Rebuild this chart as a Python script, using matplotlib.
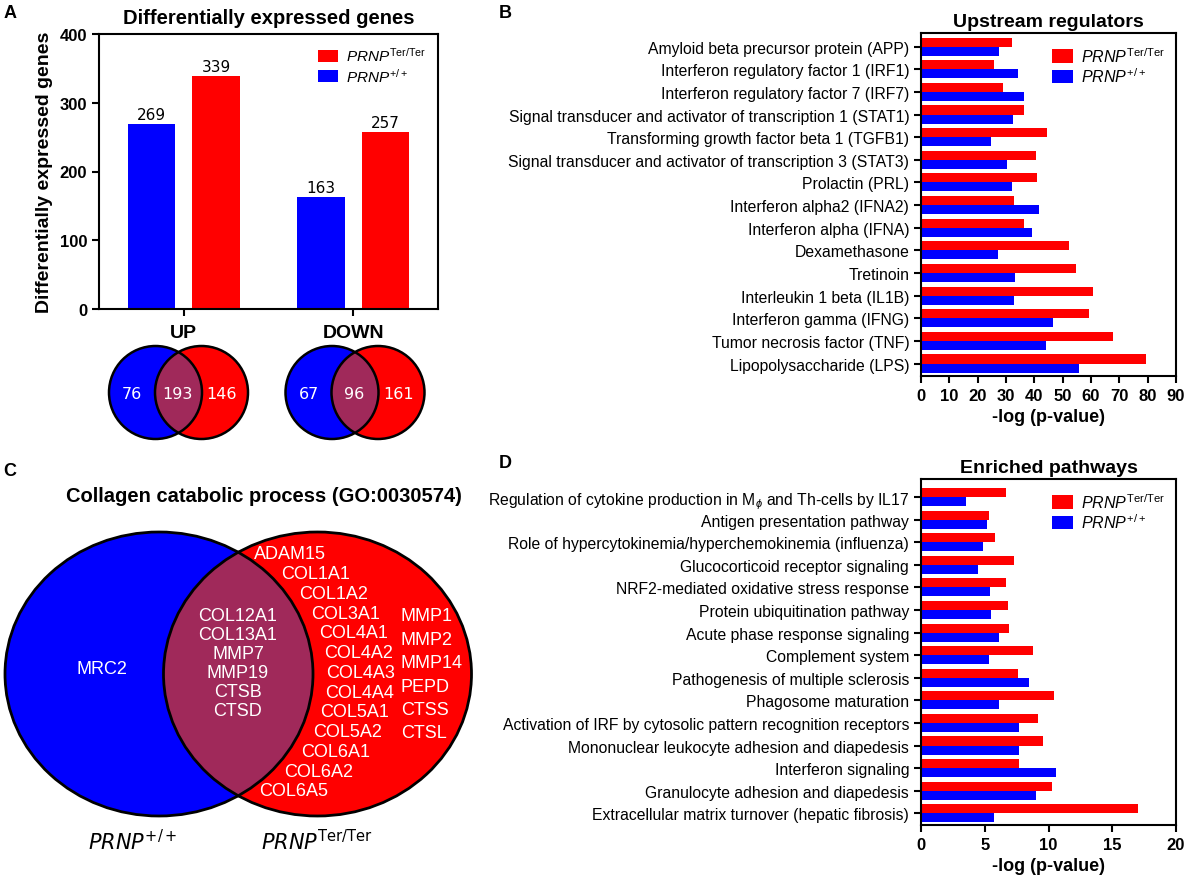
import numpy as np
import matplotlib.pyplot as plt
from matplotlib.patches import Ellipse

plt.rcParams['font.family'] = ['Liberation Sans', 'DejaVu Sans']
plt.rcParams['mathtext.fontset'] = 'custom'
plt.rcParams['mathtext.rm'] = 'Liberation Sans'
plt.rcParams['mathtext.it'] = 'Liberation Sans:italic'
plt.rcParams['mathtext.bf'] = 'Liberation Sans:bold'
plt.rcParams['axes.linewidth'] = 1.5

RED = '#ff0000'
BLUE = '#0000ff'
OVERLAP = '#a0295a'
LAB_TER = r'$\mathit{PRNP}^{\mathrm{Ter/Ter}}$'
LAB_WT = r'$\mathit{PRNP}^{\mathrm{+/+}}$'

# --- Panel A data ---
deg_groups = ['UP', 'DOWN']
deg_wt = [269, 163]
deg_ter = [339, 257]
venn_up = [76, 193, 146]     # wt only, shared, ter only
venn_down = [67, 96, 161]

# --- Panel B data ---
regulators = [
    'Amyloid beta precursor protein (APP)',
    'Interferon regulatory factor 1 (IRF1)',
    'Interferon regulatory factor 7 (IRF7)',
    'Signal transducer and activator of transcription 1 (STAT1)',
    'Transforming growth factor beta 1 (TGFB1)',
    'Signal transducer and activator of transcription 3 (STAT3)',
    'Prolactin (PRL)',
    'Interferon alpha2 (IFNA2)',
    'Interferon alpha (IFNA)',
    'Dexamethasone',
    'Tretinoin',
    'Interleukin 1 beta (IL1B)',
    'Interferon gamma (IFNG)',
    'Tumor necrosis factor (TNF)',
    'Lipopolysaccharide (LPS)',
]
reg_ter = [32.1, 25.9, 28.9, 36.4, 44.3, 40.5, 40.9, 32.7, 36.3, 52.4, 54.8, 60.6, 59.2, 67.6, 79.5]
reg_wt = [27.6, 34.3, 36.4, 32.3, 24.8, 30.5, 32.0, 41.5, 39.2, 27.2, 33.1, 32.7, 46.6, 44.0, 55.7]

# --- Panel C data ---
genes_wt_only = ['MRC2']
genes_shared = ['COL12A1', 'COL13A1', 'MMP7', 'MMP19', 'CTSB', 'CTSD']
genes_ter_col = ['ADAM15', 'COL1A1', 'COL1A2', 'COL3A1', 'COL4A1', 'COL4A2', 'COL4A3',
                 'COL4A4', 'COL5A1', 'COL5A2', 'COL6A1', 'COL6A2', 'COL6A5']
genes_ter_other = ['MMP1', 'MMP2', 'MMP14', 'PEPD', 'CTSS', 'CTSL']

# --- Panel D data ---
pathways = [
    r'Regulation of cytokine production in M$_{\phi}$ and Th-cells by IL17',
    'Antigen presentation pathway',
    'Role of hypercytokinemia/hyperchemokinemia (influenza)',
    'Glucocorticoid receptor signaling',
    'NRF2-mediated oxidative stress response',
    'Protein ubiquitination pathway',
    'Acute phase response signaling',
    'Complement system',
    'Pathogenesis of multiple sclerosis',
    'Phagosome maturation',
    'Activation of IRF by cytosolic pattern recognition receptors',
    'Mononuclear leukocyte adhesion and diapedesis',
    'Interferon signaling',
    'Granulocyte adhesion and diapedesis',
    'Extracellular matrix turnover (hepatic fibrosis)',
]
path_ter = [6.7, 5.3, 5.8, 7.3, 6.7, 6.8, 6.9, 8.8, 7.6, 10.4, 9.2, 9.6, 7.7, 10.3, 17.0]
path_wt = [3.5, 5.2, 4.9, 4.5, 5.4, 5.5, 6.1, 5.3, 8.5, 6.1, 7.7, 7.7, 10.6, 9.0, 5.7]

W, H = 1191, 887
fig = plt.figure(figsize=(W / 100, H / 100), dpi=100)


def px_axes(x0, y0, x1, y1):
    # axes from pixel box (top-left origin)
    return fig.add_axes([x0 / W, (H - y1) / H, (x1 - x0) / W, (y1 - y0) / H])


# overlay axes for venns and free text, pixel coords
ov = fig.add_axes([0, 0, 1, 1])
ov.set_xlim(0, W)
ov.set_ylim(H, 0)
ov.axis('off')


def draw_venn(cxl, cxr, cy, w, h, lw):
    left = Ellipse((cxl, cy), w, h, facecolor=BLUE, edgecolor='none')
    right = Ellipse((cxr, cy), w, h, facecolor=RED, edgecolor='none')
    ov.add_patch(left)
    ov.add_patch(right)
    lens = Ellipse((cxr, cy), w, h, facecolor=OVERLAP, edgecolor='none')
    ov.add_patch(lens)
    lens.set_clip_path(left)
    for cx in (cxl, cxr):
        ov.add_patch(Ellipse((cx, cy), w, h, facecolor='none', edgecolor='black', lw=lw))


# ---------------- Panel A ----------------
axA = px_axes(99, 35, 438, 310)
x = np.arange(len(deg_groups))
bw = 0.28
b1 = axA.bar(x - 0.19, deg_wt, bw, color=BLUE, label=LAB_WT)
b2 = axA.bar(x + 0.19, deg_ter, bw, color=RED, label=LAB_TER)
for bars, vals in [(b1, deg_wt), (b2, deg_ter)]:
    for b, v in zip(bars, vals):
        axA.text(b.get_x() + b.get_width() / 2, v + 3, str(v), ha='center', va='bottom',
                 fontsize=11, family='DejaVu Sans')
axA.set_xlim(-0.5, 1.5)
axA.set_ylim(0, 400)
axA.set_yticks([0, 100, 200, 300, 400])
axA.set_xticks(x)
axA.set_xticklabels(deg_groups, fontsize=14, fontweight='bold')
axA.tick_params(axis='y', labelsize=12, width=1.5, length=5)
axA.tick_params(axis='x', width=1.5, length=5, pad=6)
for lab in axA.get_yticklabels():
    lab.set_fontweight('bold')
axA.set_ylabel('Differentially expressed genes', fontsize=14, fontweight='bold', labelpad=5)
axA.set_title('Differentially expressed genes', fontsize=14.5, fontweight='bold', pad=8)
h, l = axA.get_legend_handles_labels()
axA.legend(h[::-1], l[::-1], loc='upper right', frameon=False, fontsize=11,
           handlelength=1.3, handleheight=0.9, handletextpad=0.5, labelspacing=0.15,
           borderaxespad=0.4)
axA.set_facecolor('none')

# small venns under A
r_small = 93
for (cxl, cy), counts in [((155.5, 393.5), venn_up), ((332, 393.5), venn_down)]:
    cxr = cxl + 46
    draw_venn(cxl, cxr, cy, r_small, r_small, 1.8)
    left_edge = cxl - r_small / 2
    right_edge = cxr + r_small / 2
    pos = [(left_edge + cxr - r_small / 2) / 2, (cxl + cxr) / 2 - 1,
           (cxl + r_small / 2 + right_edge) / 2 - 3]
    for px, n in zip(pos, counts):
        ov.text(px, cy + 1, str(n), ha='center', va='center', color='white',
                fontsize=11.5, family='DejaVu Sans')

# ---------------- Panel B ----------------
def hbar_panel(ax, labels, ter, wt, xmax, xstep, title, ylim):
    y = np.arange(len(labels))
    ax.barh(y - 0.2, ter, 0.4, color=RED, label=LAB_TER)
    ax.barh(y + 0.2, wt, 0.4, color=BLUE, label=LAB_WT)
    ax.set_ylim(*ylim)
    ax.set_yticks(y)
    ax.set_yticklabels(labels, fontsize=11.3)
    ax.set_xlim(0, xmax)
    ax.set_xticks(np.arange(0, xmax + 0.1, xstep))
    ax.tick_params(axis='both', width=1.5, length=5)
    ax.tick_params(axis='x', labelsize=12)
    for lab in ax.get_xticklabels():
        lab.set_fontweight('bold')
    ax.set_xlabel('-log (p-value)', fontsize=13, fontweight='bold', labelpad=4)
    ax.set_title(title, fontsize=14, fontweight='bold', pad=5)
    ax.legend(loc='upper right', frameon=False, fontsize=11.5, handlelength=1.3,
              handleheight=0.9, handletextpad=0.5, labelspacing=0.1,
              bbox_to_anchor=(1.0, 0.995), borderaxespad=0.3)
    ax.set_facecolor('none')


axB = px_axes(921, 34, 1176, 377)
hbar_panel(axB, regulators, reg_ter, reg_wt, 90, 10, 'Upstream regulators', (14.55, -0.6))

axD = px_axes(921, 480, 1176, 826)
hbar_panel(axD, pathways, path_ter, path_wt, 20, 5, 'Enriched pathways', (14.52, -0.8))

# ---------------- Panel C ----------------
ov.text(264, 497, 'Collagen catabolic process (GO:0030574)', ha='center', va='center',
        fontsize=14.5, fontweight='bold')
cxl, cxr, cy, ew, eh = 159, 317.5, 675, 308, 284
draw_venn(cxl, cxr, cy, ew, eh, 2)

ov.text(102, 670, genes_wt_only[0], ha='center', va='center', color='white', fontsize=13)
for i, g in enumerate(genes_shared):
    ov.text(238, 617 + 19 * i, g, ha='center', va='center', color='white', fontsize=13)
# ter-only genes follow the right edge of the blue ellipse
for i, g in enumerate(genes_ter_col):
    gy = 555 + 19.75 * i
    dy = (gy - cy) / (eh / 2)
    gx = cxl + ew / 2 * np.sqrt(max(0.0, 1 - dy ** 2)) + 13
    ov.text(gx, gy, g, ha='left', va='center', color='white', fontsize=13)
for i, g in enumerate(genes_ter_other):
    ov.text(401, 617 + 23.4 * i, g, ha='left', va='center', color='white', fontsize=13)

ov.text(133, 842, r'$\mathit{PRNP}^{+/+}$', ha='center', va='center', fontsize=15,
        math_fontfamily='dejavusans')
ov.text(317, 842, r'$\mathit{PRNP}^{\mathrm{Ter/Ter}}$', ha='center', va='center', fontsize=15,
        math_fontfamily='dejavusans')

# panel letters
for letter, (lx, ly) in {'A': (10, 13), 'B': (505, 13), 'C': (10, 472), 'D': (505, 464)}.items():
    ov.text(lx, ly, letter, ha='center', va='center', fontsize=13, fontweight='bold')

fig.savefig('out.png', dpi=100)
